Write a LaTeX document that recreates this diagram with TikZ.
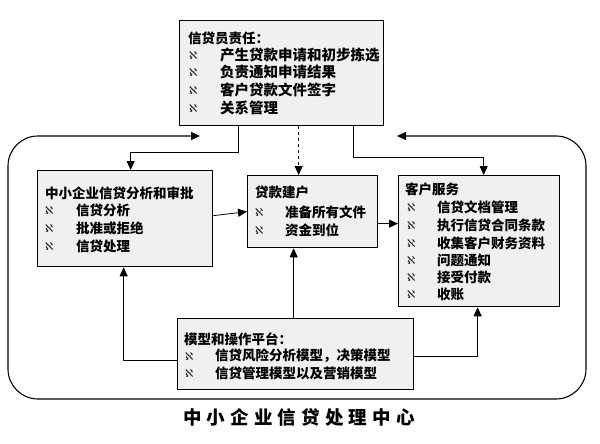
\documentclass[tikz,border=0pt]{standalone}
\usepackage{fontspec}
\newfontfamily\cjk{Noto Sans CJK SC}
\newfontfamily\cjktitle[LetterSpace=28]{Noto Sans CJK SC}
\newfontfamily\symf{DejaVu Sans}
\usetikzlibrary{arrows.meta,calc}
\definecolor{boxgray}{RGB}{240,240,240}
\tikzset{
  box/.style={draw=black, line width=1.3pt, fill=boxgray, anchor=north west, inner sep=0pt},
  txt/.style={anchor=west, inner sep=0pt, font=\cjk\bfseries\fontsize{13.5}{14}\selectfont},
  bigtxt/.style={anchor=west, inner sep=0pt, font=\cjk\bfseries\fontsize{14.5}{15}\selectfont},
  bul/.style={anchor=west, inner sep=0pt, font=\symf\fontsize{11}{11}\selectfont, text=black!85},
  arr/.style={draw=black, line width=0.8pt, -{Triangle[length=9pt,width=8pt]}},
  loop/.style={draw=black, line width=1.1pt, {Triangle[length=9pt,width=8pt]}-{Triangle[length=9pt,width=8pt]}, rounded corners=30pt},
}
\begin{document}
\begin{tikzpicture}[x=1pt,y=-1pt]
\useasboundingbox[fill=white] (0,0) rectangle (600,444);

% loop
\coordinate (la) at (200,136);
\coordinate (ra) at (397,136);
\draw[loop] (ra) -- (586,136) -- (586,399) -- (8,399) -- (8,136) -- (la);

% boxes
\node[box, minimum width=204pt, minimum height=105pt] (top) at (179,20) {};
\node[box, minimum width=175pt, minimum height=96pt] (lb) at (37,170) {};
\node[box, minimum width=130pt, minimum height=72pt] (loan) at (247,175) {};
\node[box, minimum width=161pt, minimum height=131pt] (cs) at (398,175) {};
\node[box, minimum width=236pt, minimum height=71pt] (plat) at (177,318) {};

% top box text
\node[txt] (t0) at (188,38) {信贷员责任：};
\node[bul] (tb1) at (189,55) {ℵ};
\node[bigtxt] (t1) at (220,55) {产生贷款申请和初步拣选};
\node[bul] (tb2) at (189,72) {ℵ};
\node[bigtxt] (t2) at (220,72) {负责通知申请结果};
\node[bul] (tb3) at (189,90) {ℵ};
\node[bigtxt] (t3) at (220,90) {客户贷款文件签字};
\node[bul] (tb4) at (189,108) {ℵ};
\node[bigtxt] (t4) at (220,108) {关系管理};

% left box text
\node[txt] (l0) at (45,193) {中小企业信贷分析和审批};
\node[bul] (lb1) at (45,210) {ℵ};
\node[txt] (l1) at (76,210) {信贷分析};
\node[bul] (lb2) at (45,228) {ℵ};
\node[txt] (l2) at (76,228) {批准或拒绝};
\node[bul] (lb3) at (45,246) {ℵ};
\node[txt] (l3) at (76,246) {信贷处理};

% loan box text
\node[txt] (n0) at (255,192) {贷款建户};
\node[bul] (nb1) at (255,212) {ℵ};
\node[txt] (n1) at (285,212) {准备所有文件};
\node[bul] (nb2) at (255,230) {ℵ};
\node[txt] (n2) at (285,230) {资金到位};

% customer service text
\node[txt] (c0) at (405,189) {客户服务};
\node[bul] (cb1) at (407,207) {ℵ};
\node[txt] (c1) at (437,207) {信贷文档管理};
\node[bul] (cb2) at (407,225) {ℵ};
\node[txt] (c2) at (437,225) {执行信贷合同条款};
\node[bul] (cb3) at (407,243) {ℵ};
\node[txt] (c3) at (437,243) {收集客户财务资料};
\node[bul] (cb4) at (407,260) {ℵ};
\node[txt] (c4) at (437,260) {问题通知};
\node[bul] (cb5) at (407,277) {ℵ};
\node[txt] (c5) at (437,277) {接受付款};
\node[bul] (cb6) at (407,294) {ℵ};
\node[txt] (c6) at (437,294) {收账};

% platform text
\node[txt] (p0) at (184,339) {模型和操作平台：};
\node[bul] (pb1) at (185,356) {ℵ};
\node[txt] (p1) at (215,356) {信贷风险分析模型，决策模型};
\node[bul] (pb2) at (185,373) {ℵ};
\node[txt] (p2) at (215,373) {信贷管理模型以及营销模型};

% title
\node[font=\cjktitle\bfseries\fontsize{18.5}{20}\selectfont, inner sep=0pt] (title) at (299,417) {中小企业信贷处理中心};

% connectors
\draw[arr] ($(top.south)+(-43,0)$) |- ($(lb.north)+(5.5,-18)$) -- ($(lb.north)+(5.5,0)$);
\draw[arr, dashed] ($(top.south)+(17,0)$) -- ($(loan.north)+(-14,0)$);
\draw[arr] ($(top.south)+(72,0)$) |- ($(cs.north)+(4.5,-18)$) -- ($(cs.north)+(4.5,0)$);
\draw[arr] ($(lb.east)+(0,-3)$) -- (loan.west);
\draw[arr] ($(loan.east)+(0,12)$) -- ($(cs.west)+(0,-17.5)$);
\draw[arr] ($(plat.west)+(0,6.5)$) -| ($(lb.south)+(-1.5,0)$);
\draw[arr] ($(plat.north)+(-2,0)$) -- ($(loan.south)+(-19,0)$);
\draw[arr] ($(plat.east)+(0,2.5)$) -| ($(cs.south)+(-1.5,0)$);
\end{tikzpicture}
\end{document}
